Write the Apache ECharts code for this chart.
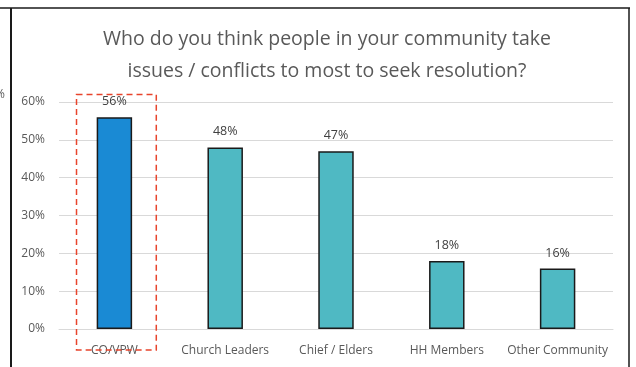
<!DOCTYPE html>
<html>
<head>
<meta charset="utf-8">
<script src="https://cdn.jsdelivr.net/npm/echarts@6/dist/echarts.min.js"></script>
<style>
  html, body { margin: 0; padding: 0; background: #fff; }
  #chart { width: 636px; height: 367px; }
</style>
</head>
<body>
<div id="chart"></div>
<script>
// data
var categories = ['CO/VPW', 'Church Leaders', 'Chief / Elders', 'HH Members', 'Other Community'];
var values = [56, 48, 47, 18, 16];
var barColors = ['#1a8ad4', '#4fb9c3', '#4fb9c3', '#4fb9c3', '#4fb9c3'];

var font = 'Open Sans';
var myChart = echarts.init(document.getElementById('chart'));

var option = {
    backgroundColor: '#fff',
    animation: false,
    title: {
        text: 'Who do you think people in your community take\nissues / conflicts to most to seek resolution?',
        left: 322,
        textAlign: 'center',
        top: 18,
        textStyle: {
            fontFamily: font,
            fontSize: 19.5,
            fontWeight: 'normal',
            color: '#595959',
            lineHeight: 32
        }
    },
    grid: {
        left: 59,
        right: 23,
        top: 102,
        bottom: 38
    },
    xAxis: {
        type: 'category',
        data: categories,
        axisLine: { lineStyle: { color: '#d9d9d9', width: 1 } },
        axisTick: { show: false },
        axisLabel: {
            fontFamily: font,
            fontSize: 12,
            color: '#595959',
            margin: 16,
            interval: 0
        }
    },
    yAxis: {
        type: 'value',
        min: 0,
        max: 60,
        interval: 10,
        axisLine: { show: false },
        axisTick: { show: false },
        splitLine: { lineStyle: { color: '#d9d9d9', width: 1 } },
        axisLabel: {
            formatter: '{value}%',
            fontFamily: font,
            fontSize: 12,
            color: '#595959',
            margin: 14
        }
    },
    series: [{
        type: 'bar',
        barWidth: '32%',
        data: values.map(function (v, i) {
            return { value: v, itemStyle: { color: barColors[i] } };
        }),
        itemStyle: {
            borderColor: '#1a1a1a',
            borderWidth: 1.5
        },
        label: {
            show: true,
            position: 'top',
            distance: 9,
            formatter: '{c}%',
            fontFamily: font,
            fontSize: 12.5,
            color: '#404040'
        }
    }]
};
myChart.setOption(option);

// frame lines and the dashed highlight box around the first category
var p0 = myChart.convertToPixel({ xAxisIndex: 0, yAxisIndex: 0 }, [0, 0]);
var p1 = myChart.convertToPixel({ xAxisIndex: 0, yAxisIndex: 0 }, [1, 62]);
var band = myChart.convertToPixel({ xAxisIndex: 0 }, 1) - myChart.convertToPixel({ xAxisIndex: 0 }, 0);
var boxHalf = band * 0.36;

myChart.setOption({
    graphic: [
        { type: 'line', shape: { x1: 0, y1: 8, x2: 630, y2: 8 }, style: { stroke: '#1a1a1a', lineWidth: 1.5 } },
        { type: 'line', shape: { x1: 11, y1: 8, x2: 11, y2: 367 }, style: { stroke: '#1a1a1a', lineWidth: 2 } },
        { type: 'line', shape: { x1: 629, y1: 8, x2: 629, y2: 367 }, style: { stroke: '#1a1a1a', lineWidth: 1.5 } },
        { type: 'text', x: -5, y: 89, style: { text: '%', font: '12px "Open Sans"', fill: '#595959' } },
        {
            type: 'rect',
            shape: { x: p0[0] - boxHalf + 2, y: p1[1], width: boxHalf * 2, height: p0[1] - p1[1] + 21 },
            style: { fill: 'none', stroke: '#e8442c', lineWidth: 1.5, lineDash: [6, 4] },
            z: 10
        }
    ]
});
</script>
</body>
</html>
